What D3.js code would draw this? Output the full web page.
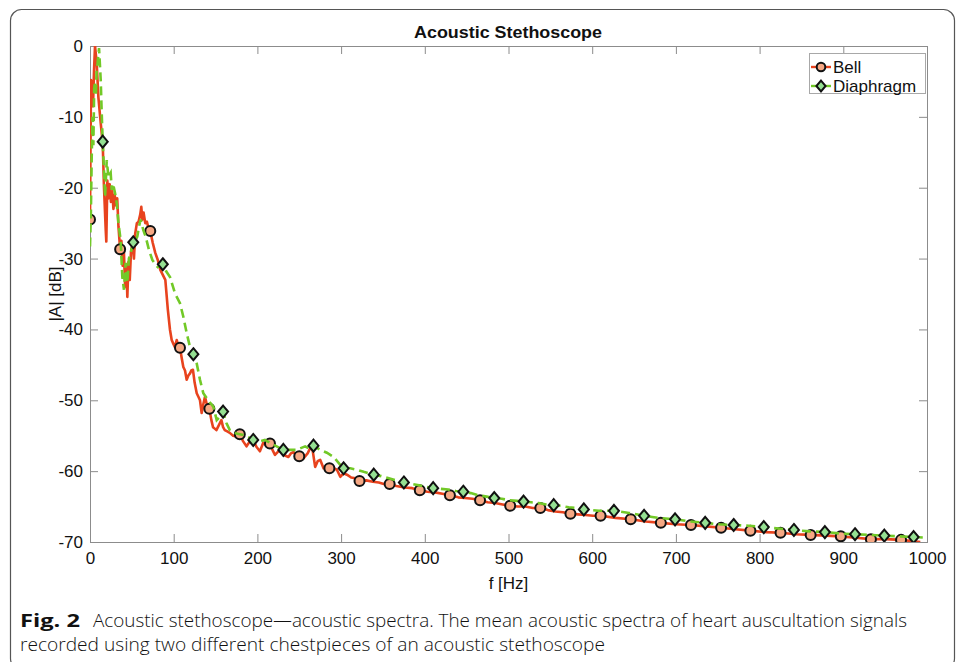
<!DOCTYPE html>
<html>
<head>
<meta charset="utf-8">
<script src="https://cdn.jsdelivr.net/npm/d3@7"></script>
<style>
  html, body { margin: 0; padding: 0; background: #fff; }
  svg { display: block; }
</style>
</head>
<body>
<svg id="chart" width="963" height="662"></svg>
<script>
// ---------------- DATA ----------------
const title = "Acoustic Stethoscope";
const xLabel = "f [Hz]";
const yLabel = "|A| [dB]";
const seriesNames = ["Bell", "Diaphragm"];
const xTicks = [0, 100, 200, 300, 400, 500, 600, 700, 800, 900, 1000];
const yTicks = [0, -10, -20, -30, -40, -50, -60, -70];

// Bell spectrum: frequency [Hz] and magnitude [dB]
const bellF = [0,1.2,2.4,3.6,4.8,6,8,10,12.8,15.2,16.7,18.8,19.5,20.7,22,23.5,25,26.5,28,29.5,31,32.5,34,36,37.5,39,40.5,42,43.5,44.6,46,47.5,49,51,52.5,54,56,58,60,61.3,62.5,64,66,68,70,72,75,78,81,84,87,90,93,95.5,97.6,99.5,101.5,103.6,105.5,107.5,109.5,111.5,113.5,115.5,117.5,119.5,121,123,125,127.5,129.5,131.4,133.4,135.5,137.4,140,142.6,145,147,149,151,154,157,159,161,164,167,171,175,179,183,187,191,195,199,203,207,211,215,218,221,225,229,233,237,240,243,247,250,255,260,265,269,272,275,279,283,286,290,295,299,303,307,312,317,322,330,338,345,351,358,366,376,385,394,403,412,421,430,440,448,457,466,475,484,493,502,511,520,529,538,547,556,565,574,583,592,601,610,628,646,664,682,700,718,736,754,771,789,807,825,843,861,879,897,915,933,951,969,992];
const bellDb = [-24.5,-4.8,-5.5,-8.5,-3.5,0,-2.4,-7.2,-10.9,-13.7,-19.9,-26,-27.6,-19,-21.5,-19.5,-22,-20.5,-23,-21,-22.5,-21.5,-25.5,-28.7,-27.5,-31,-29,-34,-31,-35.4,-30.5,-33,-29,-27.8,-30,-26.5,-25,-24.8,-23.8,-22.7,-24.5,-23.5,-25,-24.8,-25.8,-26.1,-27.8,-29.2,-30.2,-31.6,-32.3,-33,-37.2,-40,-41.5,-42,-42.5,-41.5,-42.2,-42.6,-44,-45.3,-45.8,-47.1,-46.5,-46.2,-45.8,-45.7,-47.5,-49,-49.5,-50,-51.8,-50.5,-49.5,-50.8,-51.2,-52.8,-53.8,-54,-54.2,-53.5,-52.8,-53.8,-54.2,-54.4,-54.6,-55,-55.1,-54.8,-55.8,-56.5,-55.8,-55.6,-56.6,-57.2,-56,-56.4,-56.1,-57,-57.7,-57.2,-57,-57.8,-58,-57.5,-57.3,-57.8,-57.9,-58.2,-57.5,-56.3,-59.4,-58.6,-58.4,-59.6,-59.2,-59.6,-59.5,-59.8,-60.8,-60.3,-60.5,-60.9,-61,-61.4,-61.3,-61.5,-61.6,-61.8,-61.8,-62.1,-62.3,-62.4,-62.7,-62.9,-63.0,-63.2,-63.4,-63.7,-63.8,-63.9,-64.1,-64.4,-64.5,-64.7,-64.9,-65.0,-65.0,-65.2,-65.2,-65.5,-65.7,-65.8,-66.0,-66.1,-66.2,-66.3,-66.3,-66.6,-66.8,-67.1,-67.3,-67.5,-67.6,-67.8,-68.0,-68.2,-68.4,-68.6,-68.7,-68.9,-69.0,-69.1,-69.2,-69.4,-69.6,-69.6,-69.7,-70.0];

// Diaphragm spectrum
const diaF = [0,1,2,3,4,5,6,7,8,9,10.8,12.8,14,15.2,16.7,18,20,22,24.7,26,27.5,30,32,34,36.6,38.6,40.6,42.6,44.6,46.5,48.6,51.7,54,56.5,58.5,60.5,63.7,66.5,70.5,74.5,78.5,81,84,87,91,95.6,101.5,107.5,111.5,115.5,119.5,123.5,127.5,131.4,135.4,141.3,147.3,151.4,155.3,159,163,167,175,183,189,195,203,209,215,223,231,239,247,257,263,267,275,283,291,299,303,311,319,327,333,339,348,357,366,375,384,393,401,410,419,428,437,446,455,464,474,483,492,501,510,518,527,536,545,554,563,572,581,590,608,626,644,662,680,699,717,735,752,769,787,805,823,841,860,878,896,914,932,949,967,984,1000];
const diaDb = [-28.3,-24,-16,-10,-14,-6,-5,-7,-3,-2.5,-0.3,-4.8,-9.5,-13.5,-17.5,-21.3,-16.1,-18.5,-17.9,-20.3,-19.4,-20.8,-22.2,-25,-27.4,-32.6,-34.4,-30.6,-33.4,-30,-29.2,-27.7,-27.5,-26.9,-25.5,-24.5,-26,-26.9,-28.8,-30.2,-30.9,-31.2,-31,-30.8,-31.8,-32.6,-34.9,-36.3,-38.2,-40.5,-42.5,-43.5,-44.8,-47.1,-49,-50,-50.9,-52.8,-52.3,-51.6,-53.2,-54.2,-54.7,-54.9,-55.2,-55.6,-55.8,-55.6,-56,-56.5,-57,-57,-57,-56.5,-56.9,-56.4,-57,-57.4,-58,-59.1,-59.6,-59.6,-59.8,-60.1,-60.3,-60.5,-60.7,-61.0,-61.3,-61.6,-61.8,-62.0,-62.2,-62.4,-62.5,-62.6,-62.8,-62.9,-63.1,-63.4,-63.6,-63.8,-63.9,-64.1,-64.2,-64.3,-64.4,-64.5,-64.7,-64.8,-64.9,-65.1,-65.2,-65.4,-65.6,-65.6,-65.9,-66.3,-66.6,-66.8,-67.1,-67.3,-67.5,-67.6,-67.7,-67.9,-68.1,-68.3,-68.5,-68.6,-68.8,-68.9,-69.0,-69.1,-69.2,-69.3,-69.4];

// Marker points
const bellMarkF = [0,36,72,107.5,142.6,179,215,250,286,322,358,394,430,466,502,538,574,610,646,682,718,754,789,825,861,897,933,969];
const bellMarkDb = [-24.5,-28.7,-26.1,-42.6,-51.2,-54.8,-56.1,-57.9,-59.6,-61.4,-61.8,-62.7,-63.4,-64.1,-64.9,-65.2,-66.0,-66.3,-66.8,-67.3,-67.6,-68.0,-68.4,-68.7,-69.0,-69.2,-69.6,-69.7];
const diaMarkF = [15.2,51.7,87,123.5,159,195,231,267,303,339,375,410,446,483,518,554,590,626,662,699,735,769,805,841,878,914,949,984];
const diaMarkDb = [-13.5,-27.7,-30.8,-43.5,-51.6,-55.6,-57,-56.4,-59.6,-60.5,-61.6,-62.4,-62.9,-63.8,-64.3,-64.8,-65.4,-65.6,-66.3,-66.8,-67.3,-67.6,-67.9,-68.3,-68.6,-68.9,-69.1,-69.3];

const captionBold = "Fig. 2";
const captionLine1 = "Acoustic stethoscope\u2014acoustic spectra. The mean acoustic spectra of heart auscultation signals";
const captionLine2 = "recorded using two different chestpieces of an acoustic stethoscope";

// ---------------- STYLE ----------------
const C = {
  red: "#e8431e", green: "#72c927",
  redFill: "#f6a884", greenFill: "#95e092",
  axis: "#8c8c8c", text: "#111"
};
const FONT = "'Liberation Sans', Arial, Helvetica, sans-serif";
const CAPFONT = "'Open Sans', 'Noto Sans', sans-serif";

const svg = d3.select("#chart");
const plot = {left: 90, right: 927, top: 46, bottom: 542};

const x = d3.scaleLinear().domain([0, 1000]).range([plot.left, plot.right]);
const y = d3.scaleLinear().domain([-70, 0]).range([plot.bottom, plot.top]);
const fmt = d => String(d);

// outer rounded border
svg.append("rect")
  .attr("x", 10.5).attr("y", 9.5).attr("width", 944).attr("height", 660)
  .attr("rx", 11).attr("ry", 11)
  .attr("fill", "none").attr("stroke", "#555").attr("stroke-width", 1.2);

// clip
svg.append("defs").append("clipPath").attr("id", "clip")
  .append("rect").attr("x", plot.left).attr("y", plot.top)
  .attr("width", plot.right - plot.left).attr("height", plot.bottom - plot.top);

// axes
function styleAxis(g) {
  g.attr("font-family", null).attr("font-size", null);
  g.select(".domain").remove();
  g.selectAll(".tick line").attr("stroke", C.axis).attr("stroke-width", 1);
  g.selectAll(".tick text").attr("fill", C.text).style("font-family", FONT).style("font-size", "17px");
}
svg.append("g").attr("transform", `translate(0,${plot.bottom})`)
  .call(d3.axisBottom(x).tickValues(xTicks).tickSize(-8).tickPadding(10).tickFormat(fmt))
  .call(styleAxis);
svg.append("g").attr("transform", `translate(0,${plot.top})`)
  .call(d3.axisTop(x).tickValues(xTicks).tickSize(-8).tickFormat(""))
  .call(styleAxis);
svg.append("g").attr("transform", `translate(${plot.left},0)`)
  .call(d3.axisLeft(y).tickValues(yTicks).tickSize(-8).tickPadding(7).tickFormat(fmt))
  .call(styleAxis);
svg.append("g").attr("transform", `translate(${plot.right},0)`)
  .call(d3.axisRight(y).tickValues(yTicks).tickSize(-8).tickFormat(""))
  .call(styleAxis);

// box
svg.append("rect")
  .attr("x", plot.left + 0.5).attr("y", plot.top + 0.5)
  .attr("width", plot.right - plot.left).attr("height", plot.bottom - plot.top)
  .attr("fill", "none").attr("stroke", C.axis).attr("stroke-width", 1);

// lines
const line = d3.line().x(d => x(d[0])).y(d => y(d[1]));
const bellData = bellF.map((f, i) => [f, bellDb[i]]);
const diaData = diaF.map((f, i) => [f, diaDb[i]]);

const gPlot = svg.append("g").attr("clip-path", "url(#clip)");
gPlot.append("path").datum(bellData).attr("d", line)
  .attr("fill", "none").attr("stroke", C.red).attr("stroke-width", 2.6)
  .attr("stroke-linejoin", "round");
gPlot.append("g").selectAll("circle")
  .data(bellMarkF.map((f, i) => [f, bellMarkDb[i]]))
  .join("circle")
  .attr("cx", d => x(d[0])).attr("cy", d => y(d[1])).attr("r", 5)
  .attr("fill", C.redFill).attr("stroke", "#111").attr("stroke-width", 2);

gPlot.append("path").datum(diaData).attr("d", line)
  .attr("fill", "none").attr("stroke", C.green).attr("stroke-width", 2.6)
  .attr("stroke-dasharray", "9,5");
const diamond = (cx, cy, rx, ry) => `M${cx},${cy - ry}L${cx + rx},${cy}L${cx},${cy + ry}L${cx - rx},${cy}Z`;
gPlot.append("g").selectAll("path")
  .data(diaMarkF.map((f, i) => [f, diaMarkDb[i]]))
  .join("path")
  .attr("d", d => diamond(x(d[0]), y(d[1]), 5, 6))
  .attr("fill", C.greenFill).attr("stroke", "#111").attr("stroke-width", 2);

// title
svg.append("text").attr("x", 508).attr("y", 38).attr("text-anchor", "middle")
  .style("font-family", FONT).style("font-weight", "bold").style("font-size", "16px")
  .attr("fill", C.text).attr("textLength", 188).attr("lengthAdjust", "spacingAndGlyphs")
  .text(title);

// axis labels
svg.append("text").attr("x", 508.5).attr("y", 589).attr("text-anchor", "middle")
  .style("font-family", FONT).style("font-size", "17px").attr("fill", C.text).text(xLabel);
svg.append("text").attr("transform", `translate(61,294) rotate(-90)`).attr("text-anchor", "middle")
  .style("font-family", FONT).style("font-size", "17px").attr("fill", C.text).text(yLabel);

// legend
const leg = svg.append("g");
leg.append("rect").attr("x", 809.5).attr("y", 53.5).attr("width", 116).attr("height", 40)
  .attr("fill", "#fff").attr("stroke", "#a8a8a8").attr("stroke-width", 1);
const legRows = [
  {name: seriesNames[0], y: 67, color: C.red, marker: "circle"},
  {name: seriesNames[1], y: 86, color: C.green, marker: "diamond"}
];
legRows.forEach(r => {
  leg.append("line").attr("x1", 811).attr("x2", 831).attr("y1", r.y).attr("y2", r.y)
    .attr("stroke", r.color).attr("stroke-width", 2.4);
  if (r.marker === "circle") {
    leg.append("circle").attr("cx", 821).attr("cy", r.y).attr("r", 4.3)
      .attr("fill", C.redFill).attr("stroke", "#111").attr("stroke-width", 2);
  } else {
    leg.append("path").attr("d", diamond(821, r.y, 4.6, 5.4))
      .attr("fill", C.greenFill).attr("stroke", "#111").attr("stroke-width", 2);
  }
  leg.append("text").attr("x", 833).attr("y", r.y + 6)
    .style("font-family", FONT).style("font-size", "17px").attr("fill", C.text).text(r.name);
});

// caption
svg.append("text").attr("x", 20).attr("y", 627)
  .style("font-family", CAPFONT).style("font-weight", "bold").style("font-size", "18px")
  .attr("fill", "#111").attr("textLength", 60).attr("lengthAdjust", "spacingAndGlyphs")
  .text(captionBold);
svg.append("text").attr("x", 93).attr("y", 627)
  .style("font-family", CAPFONT).style("font-size", "18px").style("font-weight", 300)
  .attr("fill", "#111").attr("textLength", 814).attr("lengthAdjust", "spacingAndGlyphs")
  .text(captionLine1);
svg.append("text").attr("x", 20).attr("y", 651)
  .style("font-family", CAPFONT).style("font-size", "18px").style("font-weight", 300)
  .attr("fill", "#111").attr("textLength", 585).attr("lengthAdjust", "spacingAndGlyphs")
  .text(captionLine2);
</script>
</body>
</html>
